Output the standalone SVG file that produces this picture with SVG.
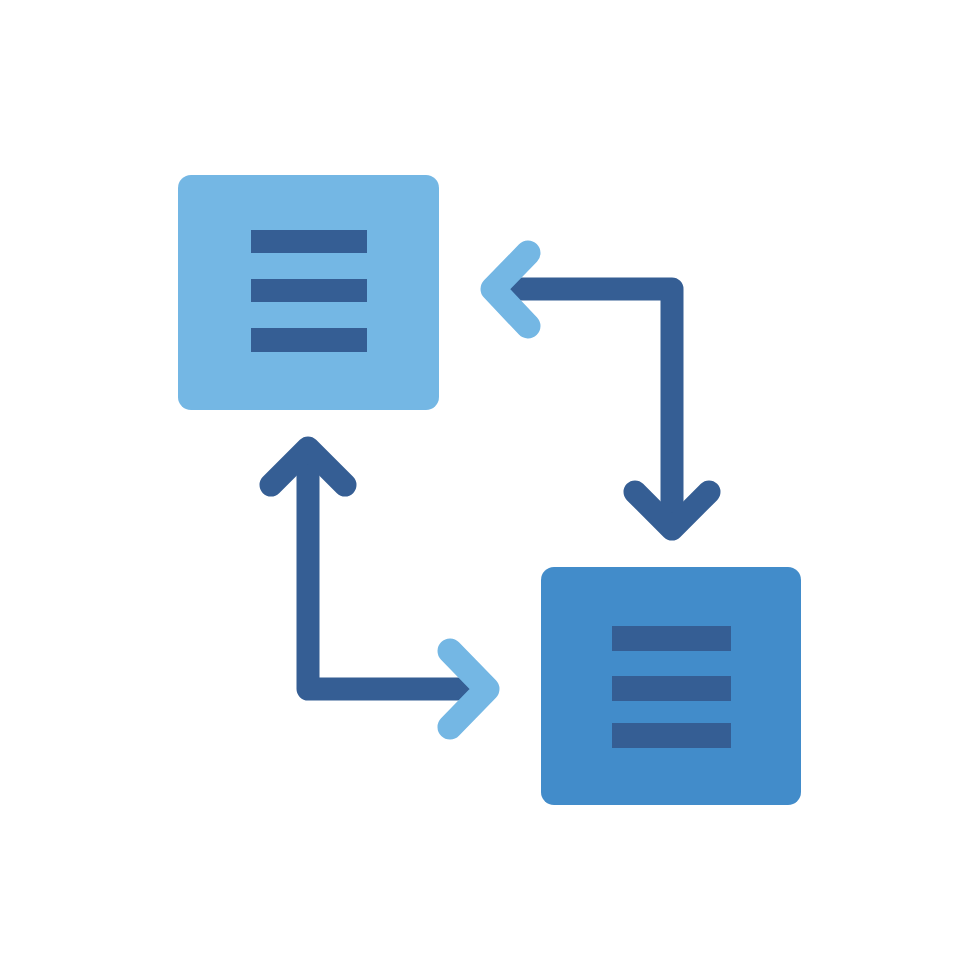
<svg xmlns="http://www.w3.org/2000/svg" width="980" height="980" viewBox="0 0 980 980">
<style>
.dark{fill:none;stroke:#355e94;stroke-width:23;stroke-linecap:round;stroke-linejoin:round}
.darkline{fill:none;stroke:#355e94;stroke-width:23;stroke-linecap:butt;stroke-linejoin:round}
.light{fill:none;stroke:#74b7e4;stroke-width:25;stroke-linecap:round;stroke-linejoin:round}
.bar{fill:#355e94}
</style>
<rect width="980" height="980" fill="#ffffff"/>
<g id="node-top-left">
<rect x="178" y="175" width="261" height="235" rx="13" fill="#74b7e4"/>
<rect class="bar" x="251" y="230" width="116" height="23"/>
<rect class="bar" x="251" y="279" width="116" height="23"/>
<rect class="bar" x="251" y="328" width="116" height="24"/>
</g>
<g id="node-bottom-right">
<rect x="541" y="567" width="260" height="238" rx="13" fill="#428cca"/>
<rect class="bar" x="612" y="626" width="119" height="25"/>
<rect class="bar" x="612" y="676" width="119" height="25"/>
<rect class="bar" x="612" y="723" width="119" height="25"/>
</g>
<g id="connectors">
<path class="darkline" d="M505 289 H672 V528"/>
<path class="dark" d="M635 492 L672 529 L709 492"/>
<path class="light" d="M528 253 L493 289 L528 326"/>
<path class="darkline" d="M308 452 V689 H476"/>
<path class="dark" d="M271 485 L308 448 L345 485"/>
<path class="light" d="M450 651 L487 689 L450 727"/>
</g>
</svg>
